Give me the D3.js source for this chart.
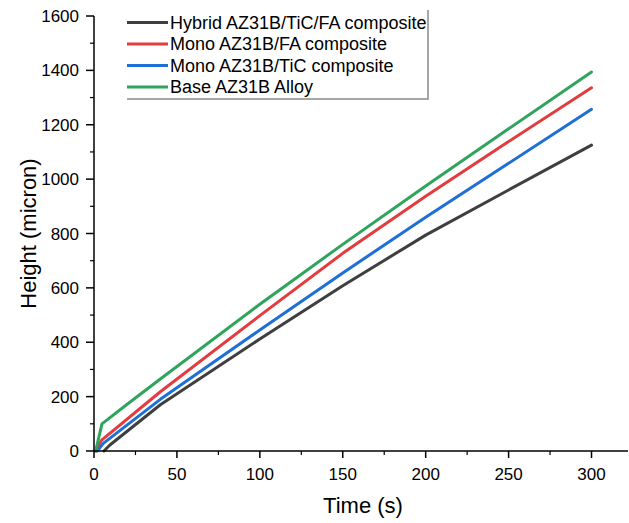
<!DOCTYPE html>
<html>
<head>
<meta charset="utf-8">
<script src="https://cdn.jsdelivr.net/npm/d3@7"></script>
<style>
  body { margin: 0; background: #fff; }
  svg text { font-family: Arial, "Liberation Sans", sans-serif; fill: #000; }
</style>
</head>
<body>
<div id="chart"></div>
<script>
var width = 629,
    height = 523;

// series: [time (s), height (micron)]
var seriesNames = ["Hybrid AZ31B/TiC/FA composite", "Mono AZ31B/FA composite",
                   "Mono AZ31B/TiC composite", "Base AZ31B Alloy"];
var seriesColors = ["#3f3f3f", "#e23c3f", "#1e6fd6", "#2fa45c"];

var hybrid = [[6,0],[9.6,22],[40,170],[100,412],[150,608],[200,794],[250,960],[300,1125]];
var monoFA = [[1,0],[4.6,40],[40,218],[100,498],[150,727],[200,937],[250,1138],[300,1336]];
var monoTiC = [[2,0],[5.6,28],[40,190],[100,445],[150,655],[200,860],[250,1058],[300,1257]];
var base = [[1,0],[4.8,100],[20,172],[40,265],[100,540],[150,760],[200,975],[250,1185],[300,1394]];
var allSeries = [hybrid, monoFA, monoTiC, base];

var xTicks = [0, 50, 100, 150, 200, 250, 300];
var yTicks = [0, 200, 400, 600, 800, 1000, 1200, 1400, 1600];

var svg = d3.select("#chart")
    .append("svg")
    .attr("width", width)
    .attr("height", height);

var x = d3.scaleLinear().domain([0, 322]).range([94, 628]);
var y = d3.scaleLinear().domain([0, 1600]).range([451, 16]);

var line = d3.line()
    .x(function(d) { return x(d[0]); })
    .y(function(d) { return y(d[1]); });

// lines, drawn hybrid first so green ends on top
allSeries.forEach(function(s, i) {
  svg.append("path")
    .attr("d", line(s))
    .attr("fill", "none")
    .attr("stroke", seriesColors[i])
    .attr("stroke-width", 3)
    .attr("stroke-linejoin", "round")
    .attr("stroke-linecap", "round");
});

// x axis
var xAxis = svg.append("g").attr("transform", "translate(0," + y(0) + ")");
xAxis.append("line").attr("x1", x(0)).attr("x2", 628).attr("stroke", "#000").attr("stroke-width", 1.5);
xAxis.selectAll(".minor").data(d3.range(25, 322, 50)).enter().append("line")
    .attr("x1", function(d) { return x(d); }).attr("x2", function(d) { return x(d); })
    .attr("y1", 0).attr("y2", 4).attr("stroke", "#000").attr("stroke-width", 1.2);
xAxis.selectAll(".major").data(xTicks).enter().append("line")
    .attr("x1", function(d) { return x(d); }).attr("x2", function(d) { return x(d); })
    .attr("y1", 0).attr("y2", 7).attr("stroke", "#000").attr("stroke-width", 1.5);
xAxis.selectAll("text").data(xTicks).enter().append("text")
    .attr("x", function(d) { return x(d); })
    .attr("y", 29)
    .attr("text-anchor", "middle")
    .style("font-size", "17px")
    .text(function(d) { return d; });

// y axis
var yAxis = svg.append("g").attr("transform", "translate(" + x(0) + ",0)");
yAxis.append("line").attr("y1", y(0)).attr("y2", y(1600)).attr("stroke", "#000").attr("stroke-width", 1.5);
yAxis.selectAll(".minor").data(d3.range(100, 1600, 200)).enter().append("line")
    .attr("y1", function(d) { return y(d); }).attr("y2", function(d) { return y(d); })
    .attr("x1", 0).attr("x2", -4).attr("stroke", "#000").attr("stroke-width", 1.2);
yAxis.selectAll(".major").data(yTicks).enter().append("line")
    .attr("y1", function(d) { return y(d); }).attr("y2", function(d) { return y(d); })
    .attr("x1", 0).attr("x2", -8).attr("stroke", "#000").attr("stroke-width", 1.5);
yAxis.selectAll("text").data(yTicks).enter().append("text")
    .attr("x", -15)
    .attr("y", function(d) { return y(d) + 6; })
    .attr("text-anchor", "end")
    .style("font-size", "17px")
    .text(function(d) { return d; });

// axis titles
svg.append("text")
    .attr("x", 363).attr("y", 513)
    .attr("text-anchor", "middle")
    .style("font-size", "22px")
    .text("Time (s)");

svg.append("text")
    .attr("transform", "translate(36," + ((y(0) + y(1600)) / 2) + ") rotate(-90)")
    .attr("text-anchor", "middle")
    .style("font-size", "22px")
    .text("Height (micron)");

// legend
var legend = svg.append("g");
legend.append("polyline")
    .attr("points", "127,99 428,99 428,10")
    .attr("fill", "none")
    .attr("stroke", "#8a8a8a")
    .attr("stroke-width", 1.5);

seriesNames.forEach(function(name, i) {
  var ly = 22.5 + i * 21.5;
  legend.append("line")
    .attr("x1", 127).attr("x2", 168)
    .attr("y1", ly).attr("y2", ly)
    .attr("stroke", seriesColors[i])
    .attr("stroke-width", 3);
  legend.append("text")
    .attr("x", 170).attr("y", ly + 6)
    .style("font-size", "18px")
    .text(name);
});
</script>
</body>
</html>
